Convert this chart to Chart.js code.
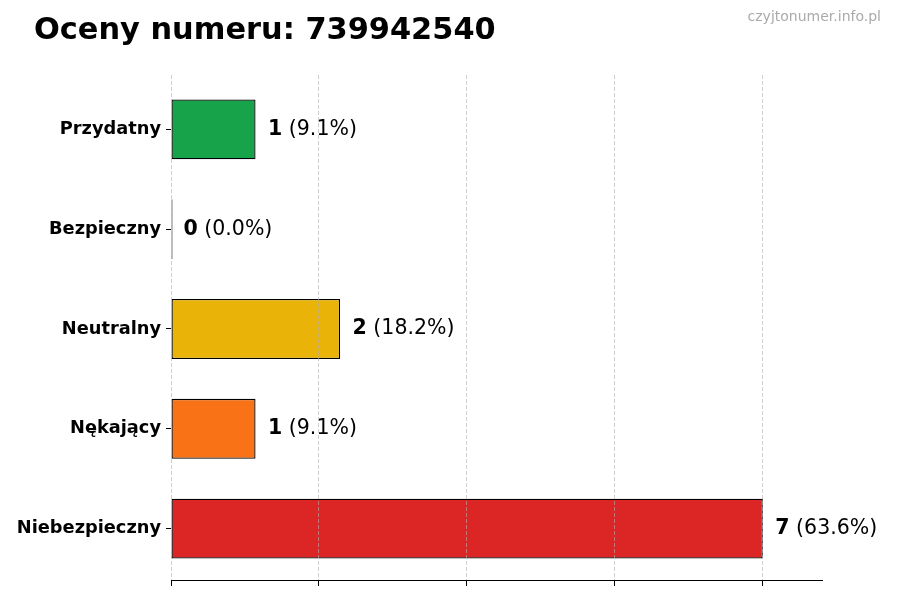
<!DOCTYPE html>
<html>
<head>
<meta charset="utf-8">
<script src="https://cdn.jsdelivr.net/npm/chart.js@4/dist/chart.umd.min.js"></script>
<style>
html,body{margin:0;padding:0;background:#fff;}
#wrap{width:900px;height:600px;position:relative;}
</style>
</head>
<body>
<div id="wrap"><canvas id="c" width="900" height="600"></canvas></div>
<script>
const titleText = "Oceny numeru: 739942540";
const watermark = "czyjtonumer.info.pl";
const categories = ["Przydatny", "Bezpieczny", "Neutralny", "Nękający", "Niebezpieczny"];
const values = [1, 0, 2, 1, 7];
const barColors = ["#16A34A", "#000000", "#EAB308", "#F97316", "#DC2626"];
const xTicks = [0, 1.75, 3.5, 5.25, 7];
const xMax = 7.7;
const yMin = -0.545;
const yMax = 4.515;

const total = values.reduce((a, b) => a + b, 0);
const FONT = "'DejaVu Sans', sans-serif";

const valueLabels = {
  id: 'valueLabels',
  afterDatasetsDraw(chart) {
    const ctx = chart.ctx;
    const meta = chart.getDatasetMeta(0);
    ctx.save();
    ctx.textBaseline = 'middle';
    ctx.fillStyle = '#000';
    meta.data.forEach((bar, i) => {
      const v = values[i];
      const pct = ' (' + (total ? (v / total * 100) : 0).toFixed(1) + '%)';
      let x = chart.scales.x.getPixelForValue(v) + 12.5;
      const y = bar.y;
      ctx.font = 'bold 20.5px ' + FONT;
      ctx.textAlign = 'left';
      ctx.fillText(String(v), x, y);
      x += ctx.measureText(String(v)).width;
      ctx.font = '20.5px ' + FONT;
      ctx.fillText(pct, x, y);
    });
    ctx.restore();
  }
};

const textPlugin = {
  id: 'texts',
  afterDraw(chart) {
    const ctx = chart.ctx;
    ctx.save();
    ctx.textBaseline = 'middle';
    ctx.font = 'bold 30.4px ' + FONT;
    ctx.fillStyle = '#000';
    ctx.textAlign = 'left';
    ctx.fillText(titleText, 34, 31);
    ctx.font = '14px ' + FONT;
    ctx.fillStyle = '#aaaaaa';
    ctx.textAlign = 'right';
    ctx.fillText(watermark, 881, 17.5);
    ctx.restore();
  }
};

new Chart(document.getElementById('c'), {
  type: 'bar',
  data: {
    datasets: [{
      data: values.map((v, i) => ({ x: v, y: i })),
      backgroundColor: barColors,
      borderColor: '#000',
      borderWidth: 1.3,
      borderSkipped: false,
      minBarLength: 1.5,
      barPercentage: 0.6,
      categoryPercentage: 1.0
    }]
  },
  options: {
    indexAxis: 'y',
    responsive: false,
    animation: false,
    devicePixelRatio: 1,
    layout: { padding: { left: 0, right: 78, top: 75, bottom: 0 } },
    plugins: {
      legend: { display: false },
      tooltip: { enabled: false },
      title: { display: false }
    },
    scales: {
      x: {
        type: 'linear',
        min: 0,
        max: xMax,
        offset: false,
        afterBuildTicks: s => { s.ticks = xTicks.map(v => ({ value: v })); },
        afterFit: s => { s.height = 20; },
        ticks: { display: false },
        grid: {
          z: 1,
          color: 'rgba(176,176,176,0.6)',
          lineWidth: 1,
          drawTicks: true,
          tickLength: 6,
          tickColor: '#000',
          tickBorderDash: [],
          tickWidth: 1
        },
        border: { display: true, color: '#000', width: 1, dash: [4, 2], z: 2 }
      },
      y: {
        type: 'linear',
        reverse: true,
        min: yMin,
        max: yMax,
        offset: false,
        afterBuildTicks: s => { s.ticks = categories.map((c, i) => ({ value: i })); },
        afterFit: s => { s.width = 171; },
        ticks: {
          color: '#000',
          font: { family: FONT, size: 17.8, weight: 'bold' },
          padding: 5,
          callback: v => categories[v]
        },
        grid: {
          drawOnChartArea: false,
          drawTicks: true,
          tickLength: 5,
          tickColor: '#000',
          tickWidth: 1,
          offset: false
        },
        border: { display: false }
      }
    }
  },
  plugins: [valueLabels, textPlugin]
});
</script>
</body>
</html>
